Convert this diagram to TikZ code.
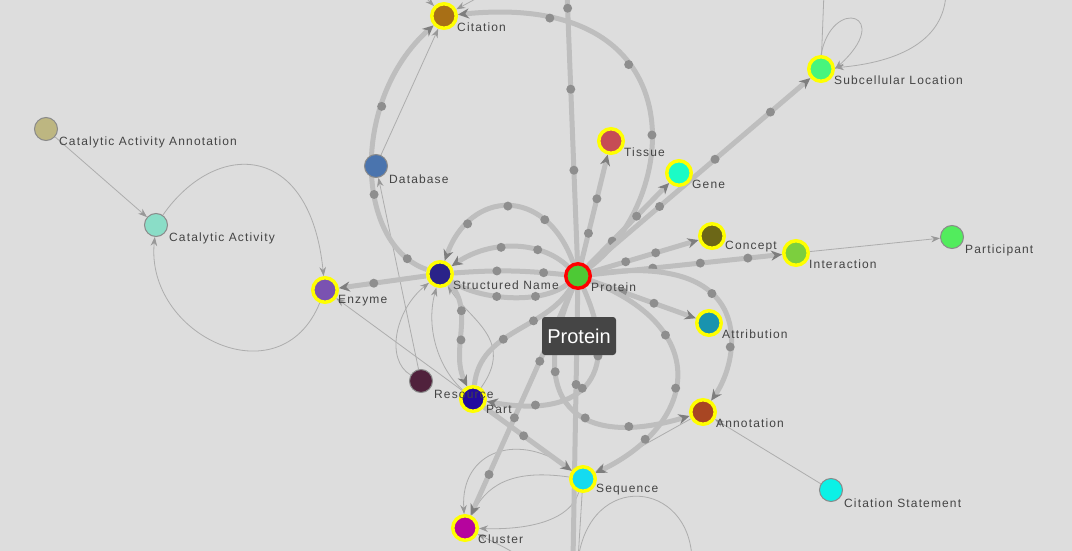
\documentclass[tikz,border=0pt]{standalone}
\usepackage{fontspec}
\usetikzlibrary{arrows.meta}
\newfontfamily\lblfont[LetterSpace=9.5]{Liberation Sans}
\newfontfamily\tipfont{Liberation Sans}
\definecolor{bg}{HTML}{DDDDDD}
\definecolor{fatgray}{HTML}{BEBEBE}
\definecolor{dotgray}{HTML}{8E8E8E}
\definecolor{fattip}{HTML}{7E7E7E}
\definecolor{thingray}{HTML}{ADADAD}
\definecolor{thintip}{HTML}{989898}
\definecolor{lblgray}{HTML}{444444}
\definecolor{ringgray}{HTML}{8A8A8A}
\definecolor{ringyellow}{HTML}{FFFF00}
\definecolor{ringred}{HTML}{FF0000}
\definecolor{tipbox}{HTML}{454545}
\definecolor{cCitation}{HTML}{A86F16}
\definecolor{cDatabase}{HTML}{4A74AE}
\definecolor{cCatAnn}{HTML}{BDB681}
\definecolor{cCatAct}{HTML}{8ADDC7}
\definecolor{cEnzyme}{HTML}{7A52B1}
\definecolor{cStructName}{HTML}{2A2389}
\definecolor{cProtein}{HTML}{4DC935}
\definecolor{cTissue}{HTML}{C64D55}
\definecolor{cGene}{HTML}{1BFCC6}
\definecolor{cSubcell}{HTML}{48F57C}
\definecolor{cConcept}{HTML}{6C6717}
\definecolor{cInteraction}{HTML}{7CCF3E}
\definecolor{cParticipant}{HTML}{52EC5D}
\definecolor{cAttribution}{HTML}{1993AF}
\definecolor{cAnnotation}{HTML}{A84623}
\definecolor{cCitStmt}{HTML}{0BF1E6}
\definecolor{cResource}{HTML}{50213C}
\definecolor{cPart}{HTML}{220A9F}
\definecolor{cSequence}{HTML}{14DBF0}
\definecolor{cCluster}{HTML}{B6049E}
\pgfdeclarelayer{edges}
\pgfsetlayers{edges,main}

\begin{document}
\begin{tikzpicture}[x=1pt,y=-1pt,
		ent/.style={circle,inner sep=0pt,minimum size=23pt,draw=ringgray,line width=1pt},
		hit/.style={ent,minimum size=24.5pt,draw=ringyellow,line width=3.5pt},
		focus/.style={hit,draw=ringred},
		lbl/.style={anchor=west,inner sep=0pt,font=\lblfont\fontsize{12}{14}\selectfont,text=lblgray},
		plbl/.style={lbl,xshift=1.5pt,yshift=-3.5pt},
		label distance=3pt,
		dot/.style={circle,fill=dotgray,inner sep=0pt,minimum size=9pt},
		fatline/.style={draw=fatgray,line width=5pt},
		fat/.style={fatline,-{Stealth[length=11pt,width=10pt,color=fattip]}},
		fine/.style={draw=thingray,line width=0.8pt,-{Stealth[length=9pt,width=6.5pt,color=thintip]}}]
	\useasboundingbox (0,0) rectangle (1072,551);
	\node[hit,fill=cCitation,label={[lbl]-40:Citation}] (cit) at (444,16) {};
	\node[ent,fill=cDatabase,label={[plbl]-40:Database}] (db) at (376,166) {};
	\node[ent,fill=cCatAnn,label={[plbl]-40:Catalytic Activity Annotation}] (caa) at (46,129) {};
	\node[ent,fill=cCatAct,label={[plbl]-40:Catalytic Activity}] (ca) at (156,225) {};
	\node[hit,fill=cEnzyme,label={[lbl]-40:Enzyme}] (enz) at (325,290) {};
	\node[hit,fill=cStructName,label={[lbl]-40:Structured Name}] (sn) at (440,274) {};
	\node[focus,fill=cProtein,label={[lbl]-40:Protein}] (prot) at (578,276) {};
	\node[hit,fill=cTissue,label={[lbl]-40:Tissue}] (tis) at (611,141) {};
	\node[hit,fill=cGene,label={[lbl]-40:Gene}] (gene) at (679,173) {};
	\node[hit,fill=cSubcell,label={[lbl]-40:Subcellular Location}] (sub) at (821,69) {};
	\node[hit,fill=cConcept,label={[lbl]-40:Concept}] (con) at (712,236) {};
	\node[hit,fill=cInteraction,label={[lbl]-40:Interaction}] (inter) at (796,253) {};
	\node[ent,fill=cParticipant,label={[plbl]-40:Participant}] (part2) at (952,237) {};
	\node[hit,fill=cAttribution,label={[lbl]-40:Attribution}] (attr) at (709,323) {};
	\node[hit,fill=cAnnotation,label={[lbl]-40:Annotation}] (ann) at (703,412) {};
	\node[ent,fill=cCitStmt,label={[plbl]-40:Citation Statement}] (cst) at (831,490) {};
	\node[hit,fill=cPart,label={[lbl]-40:Part}] (part) at (473,399) {};
	\node[ent,fill=cResource,label={[plbl]-40:Resource}] (res) at (421,381) {};
	\node[hit,fill=cSequence,label={[lbl]-40:Sequence}] (seq) at (583,479) {};
	\node[hit,fill=cCluster,label={[lbl]-40:Cluster}] (clu) at (465,528) {};
	\coordinate (upA) at (567,-8);
	\coordinate (upB) at (418,-10);
	\coordinate (upC) at (492,-10);
	\coordinate (upD) at (824,-8);
	\coordinate (upE) at (946,-8);
	\coordinate (dnA) at (573,560);
	\coordinate (dnB) at (532,565);
	\coordinate (dnC) at (578,560);
	\coordinate (dnD) at (692,560);
	\begin{pgfonlayer}{edges}
		\fill[bg] (0,0) rectangle (1072,551);
		% thin links
		\draw[fine] (caa) -- (ca);
		\draw[fine] (ca) .. controls (215,140) and (310,140) .. (enz);
		\draw[fine] (enz) .. controls (280,400) and (145,335) .. (ca);
		\draw[fine] (inter) -- (part2);
		\draw[fine] (cst) -- (ann);
		\draw[fine] (db) -- (cit);
		\draw[fine] (res) -- (db);
		\draw[fine] (res) .. controls (385,360) and (395,310) .. (sn);
		\draw[fine] (seq) -- (enz);
		\draw[fine] (part) .. controls (440,370) and (425,330) .. (sn);
		\draw[fine] (part) .. controls (515,340) and (470,320) .. (sn);
		\draw[fine] (ann) -- (seq);
		\draw[fine] (seq) .. controls (520,470) and (490,480) .. (clu);
		\draw[fine] (seq) .. controls (570,520) and (530,530) .. (clu);
		\draw[fine] (seq) .. controls (520,430) and (460,450) .. (clu);
		\draw[fine] (dnB) .. controls (510,550) .. (clu);
		\draw[thingray,line width=0.8pt] (seq) -- (dnC);
		\draw[thingray,line width=0.8pt] (dnC) .. controls (590,470) and (690,480) .. (dnD);
		\draw[fine] (upB) -- (cit);
		\draw[fine] (upC) -- (cit);
		\draw[thingray,line width=0.8pt] (upD) -- (sub);
		\draw[fine] (sub.north) .. controls (832,-5) and (895,15) .. (sub.east);
		\draw[fine] (upE) .. controls (945,40) and (900,62) .. (sub);
		% thick links
		\draw[fatline] (upA) -- node[dot,pos=.06]{} node[dot,pos=.36]{} node[dot,pos=.66]{} (prot);
		\draw[fatline] (prot) -- node[dot,pos=.35]{} (dnA);
		\draw[fat] (prot) .. controls (680,200) and (700,-10) .. node[dot,pos=.42]{} node[dot,pos=.63]{} node[dot,pos=.85]{} (cit);
		\draw[fat] (sn) .. controls (355,245) and (350,100) .. node[dot,pos=.1]{} node[dot,pos=.4]{} node[dot,pos=.7]{} (cit);
		\draw[fat] (prot) -- node[dot,pos=.27]{} node[dot,pos=.59]{} (tis);
		\draw[fat] (prot) -- node[dot,pos=.3]{} node[dot,pos=.6]{} (gene);
		\draw[fat] (prot) -- node[dot,pos=.32]{} node[dot,pos=.57]{} node[dot,pos=.82]{} (sub);
		\draw[fat] (prot) -- node[dot,pos=.32]{} node[dot,pos=.6]{} (con);
		\draw[fat] (prot) -- node[dot,pos=.32]{} node[dot,pos=.57]{} node[dot,pos=.82]{} (inter);
		\draw[fat] (prot) -- node[dot,pos=.3]{} node[dot,pos=.6]{} (attr);
		\draw[fat] (prot) .. controls (760,250) and (740,360) .. node[dot,pos=.38]{} node[dot,pos=.68]{} (ann);
		\draw[fat] (prot) .. controls (525,400) and (575,450) .. node[dot,pos=.3]{} node[dot,pos=.6]{} node[dot,pos=.8]{} (ann);
		\draw[fat] (prot) .. controls (620,370) and (590,420) .. node[dot,pos=.32]{} node[dot,pos=.55]{} node[dot,pos=.82]{} (part);
		\draw[fat] (prot) .. controls (715,330) and (695,425) .. node[dot,pos=.3]{} node[dot,pos=.55]{} node[dot,pos=.8]{} (seq);
		\draw[fat] (prot) -- node[dot,pos=.32]{} node[dot,pos=.57]{} node[dot,pos=.82]{} (clu);
		\draw[fat] (part) -- node[dot,pos=.45]{} (seq);
		\draw[fat] (sn) .. controls (475,310) and (450,350) .. node[dot,pos=.3]{} node[dot,pos=.58]{} (part);
		\draw[fat] (sn) -- node[dot,pos=.6]{} (enz);
		\draw[fat] (prot) .. controls (545,185) and (470,190) .. node[dot,pos=.25]{} node[dot,pos=.5]{} node[dot,pos=.78]{} (sn);
		\draw[fat] (prot) .. controls (540,240) and (490,240) .. node[dot,pos=.3]{} node[dot,pos=.6]{} (sn);
		\draw[fatline] (sn) to[bend left=5] node[dot,pos=.38]{} node[dot,pos=.83]{} (prot);
		\draw[fatline] (sn) .. controls (480,300) and (540,305) .. node[dot,pos=.4]{} node[dot,pos=.7]{} (prot);
		\draw[fatline] (prot) .. controls (545,330) and (480,330) .. node[dot,pos=.35]{} node[dot,pos=.6]{} (part);
	\end{pgfonlayer}
	\node[fill=tipbox,rounded corners=3pt,minimum width=74pt,minimum height=38pt,inner sep=0pt,text=white,font=\tipfont\fontsize{20}{24}\selectfont] (tip) at (579,336) {Protein};
\end{tikzpicture}
\end{document}
